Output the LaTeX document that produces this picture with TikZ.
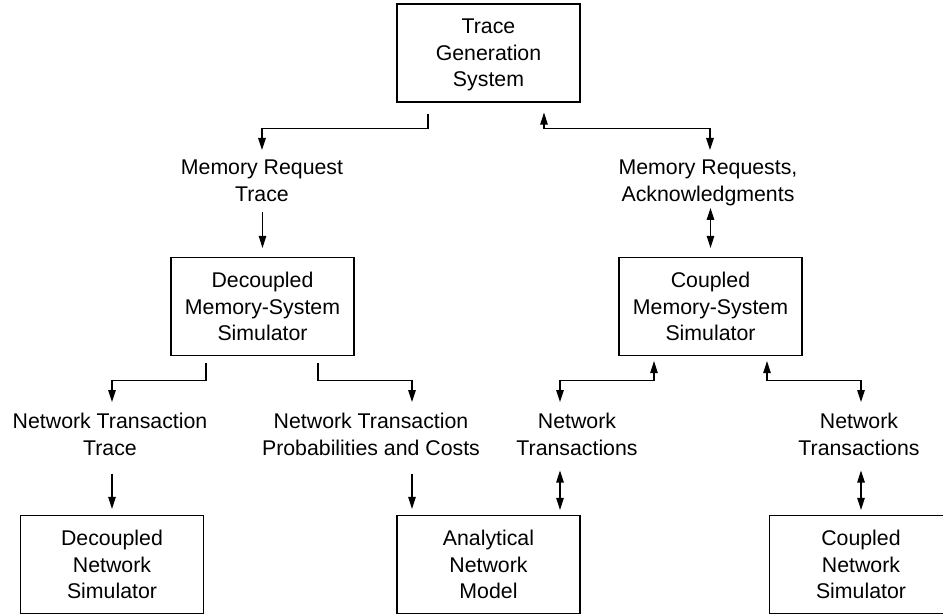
\documentclass[tikz,border=0pt]{standalone}
\usepackage{fontspec}
\setmainfont{Liberation Sans}
\usetikzlibrary{arrows.meta}
\begin{document}
\begin{tikzpicture}[x=1pt,y=-1pt,
  txt/.style={font=\fontsize{21.3}{26.5}\selectfont, align=center},
  box/.style={txt, draw, line width=1.2pt, minimum width=183pt, minimum height=98pt, inner sep=0pt},
  lbl/.style={txt, inner sep=0pt, anchor=north},
  tip/.tip={Triangle[length=12pt,width=7.5pt]},
  arr/.style={line width=1.2pt, -tip},
  darr/.style={line width=1.2pt, tip-tip}]
\useasboundingbox (0,0) rectangle (943,615);
\clip (0,0) rectangle (943,615);

% boxes
\node[box] (tgs)  at (488.5,53)    {Trace\\Generation\\\raisebox{0pt}[\height][0pt]{System}};
\node[box] (dmss) at (262.5,306.5) {Decoupled\\Memory-System\\Simulator};
\node[box] (cmss) at (710.5,306.5) {Coupled\\Memory-System\\Simulator};
\node[box] (dns)  at (112,564.5)   {Decoupled\\Network\\Simulator};
\node[box] (anm)  at (488.5,564.5) {Analytical\\Network\\Model};
\node[box] (cns)  at (861,564.5)   {Coupled\\Network\\Simulator};

% labels
\node[lbl] (mrt) at (262,160) {Memory Request\\Trace};
\node[lbl] (mra) at (708,160) {Memory Requests,\\Acknowledgments};
\node[lbl] (ntt) at (110,413) {Network Transaction\\Trace};
\node[lbl] (ntp) at (371,413) {Network Transaction\\Probabilities and Costs};
\node[lbl] (nt1) at (577,413) {Network\\Transactions};
\node[lbl] (nt2) at (859,413) {Network\\Transactions};

% top level
\coordinate (tgsL) at ([xshift=-60.5pt]tgs.south);
\coordinate (tgsR) at ([xshift=55.5pt]tgs.south);
\draw[arr, shorten <=11pt] (tgsL) -- ++(0,26) -| ([yshift=10pt]mrt.north);
\draw[darr, shorten <=10pt] (tgsR) -- ++(0,26) -| ([xshift=2pt,yshift=10pt]mra.north);

\draw[arr, shorten <=10pt, shorten >=9pt] (dmss.north |- mrt.south) -- (dmss.north);
\draw[darr, shorten <=2pt, shorten >=9pt] (cmss.north |- mra.south) -- (cmss.north);

% memory-system simulators to labels
\draw[arr, shorten <=7pt] ([xshift=-56.5pt]dmss.south) -- ++(0,24) -| ([xshift=2pt,yshift=11pt]ntt.north);
\draw[arr, shorten <=7pt] ([xshift=55.5pt]dmss.south) -- ++(0,24) -| ([xshift=41pt,yshift=11pt]ntp.north);
\draw[darr, shorten <=5pt] ([xshift=-56.5pt]cmss.south) -- ++(0,24) -| ([xshift=-17pt,yshift=11pt]nt1.north);
\draw[darr, shorten <=5pt] ([xshift=56.5pt]cmss.south) -- ++(0,24) -| ([xshift=2pt,yshift=11pt]nt2.north);

% labels to network models
\coordinate (anmL) at ([xshift=-76.5pt]anm.north);
\coordinate (anmR) at ([xshift=71.5pt]anm.north);
\draw[arr, shorten <=18pt, shorten >=6pt] (dns.north |- ntt.south) -- (dns.north);
\draw[arr, shorten <=18pt, shorten >=6pt] (anmL |- ntp.south) -- (anmL);
\draw[darr, shorten <=15pt, shorten >=5pt] (anmR |- nt1.south) -- (anmR);
\draw[darr, shorten <=15pt, shorten >=5pt] (cns.north |- nt2.south) -- (cns.north);
\end{tikzpicture}
\end{document}
